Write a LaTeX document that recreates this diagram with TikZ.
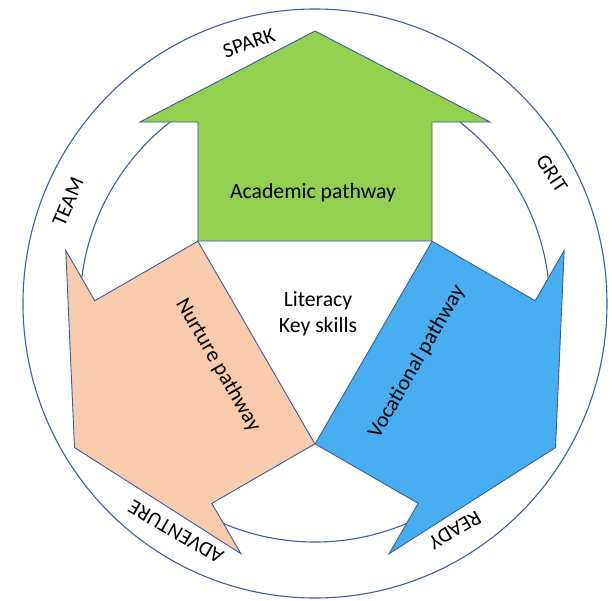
\documentclass[tikz,border=0pt]{standalone}
\usepackage{fontspec}
\setmainfont{Carlito}
\definecolor{acad}{HTML}{92D050}
\definecolor{nurt}{HTML}{F8CBAD}
\definecolor{voc}{HTML}{47AEF0}
\definecolor{edgeblue}{HTML}{3E5C9A}
\definecolor{ringblue}{HTML}{3F5FA3}
\tikzset{
  ring/.style={draw=ringblue, line width=1.1pt},
  patharrow/.style={draw=edgeblue, line width=0.9pt, line join=miter},
  bigtext/.style={inner sep=0pt, font=\fontsize{21.7}{26.5}\selectfont, text=black},
  ringtext/.style={inner sep=0pt, font=\fontsize{21}{24}\selectfont, text=black}
}
\newcommand{\pathshape}{(-117,67.7) -- (-117,186.7) -- (-175,186.7) -- (0,277.7) -- (175,186.7) -- (117,186.7) -- (117,67.7) -- cycle}
\begin{document}
\begin{tikzpicture}[x=1pt,y=1pt]
\useasboundingbox[fill=white] (-315,-291.3) rectangle (297,308.7);
% rings
\draw[ring] (0,5.2) ellipse [x radius=292, y radius=294.5];
\draw[ring] (0,1.7) circle [radius=235];
% three pathway arrows
\begin{scope}[rotate=0]
  \filldraw[patharrow, fill=acad] \pathshape;
\end{scope}
\begin{scope}[rotate=120]
  \filldraw[patharrow, fill=nurt] \pathshape;
\end{scope}
\begin{scope}[rotate=-120]
  \filldraw[patharrow, fill=voc] \pathshape;
\end{scope}
% pathway labels
\node[bigtext] (acadlbl) at (-2,115.7) {Academic pathway};
\node[bigtext, rotate=-60] (nurtlbl) at (-97,-56.3) {Nurture pathway};
\node[bigtext, rotate=60] (voclbl) at (102,-53.3) {Vocational pathway};
\node[bigtext, align=center] (centre) at (3,-5.3) {Literacy\\Key skills};
% ring labels
\node[ringtext, rotate=19] (spark) at (-66,265.7) {SPARK};
\node[ringtext, rotate=67] (team) at (-247,106.7) {TEAM};
\node[ringtext, rotate=-57] (grit) at (237,134.7) {GRIT};
\node[ringtext, rotate=150] (adv) at (-139,-223.3) {ADVENTURE};
\node[ringtext, rotate=210] (ready) at (140,-221.3) {READY};
\end{tikzpicture}
\end{document}
